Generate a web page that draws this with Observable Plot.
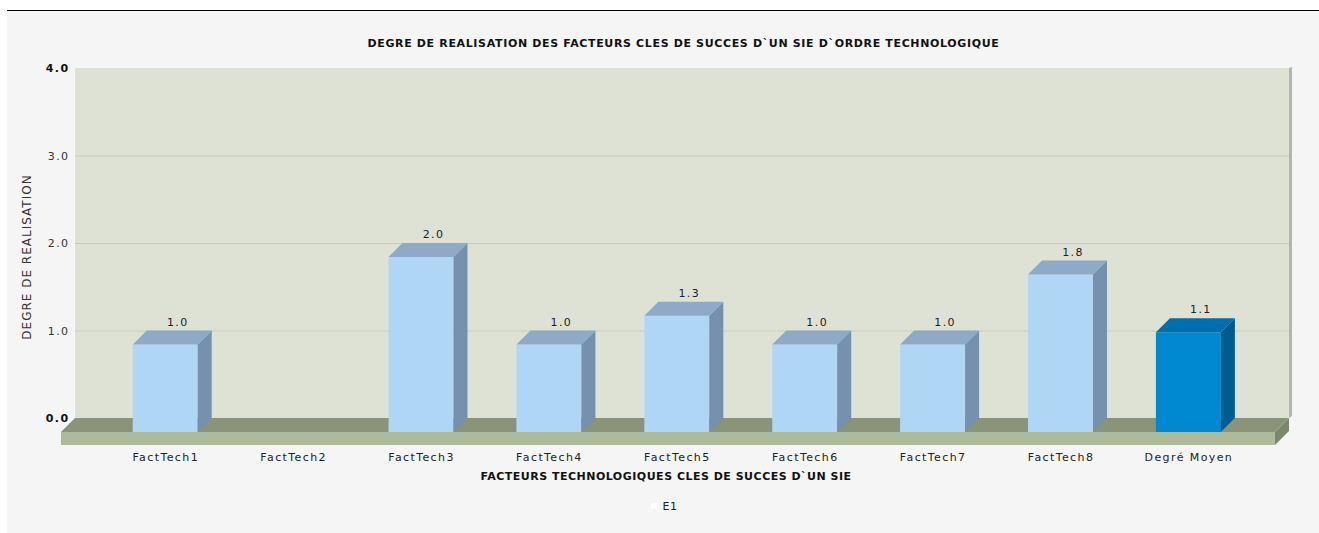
<!DOCTYPE html>
<html>
<head>
<meta charset="utf-8">
<script src="https://cdn.jsdelivr.net/npm/d3@7"></script>
<script src="https://cdn.jsdelivr.net/npm/@observablehq/plot@0.6"></script>
<style>
  html, body { margin: 0; padding: 0; }
  body { width: 1319px; height: 533px; position: relative; overflow: hidden; background: #fff;
         font-family: "DejaVu Sans", Verdana, sans-serif; color: #222; }
  #panel { position: absolute; left: 7px; top: 10px; width: 1312px; height: 523px; background: #f5f5f5; border-top: 1px solid #000; }
  #title { position: absolute; left: 48px; top: 37px; width: 1271px; text-align: center; font-weight: bold; font-size: 11px; letter-spacing: 0.65px; line-height: 14px; color: #111; }
  #ytitle { position: absolute; left: 27px; top: 257px; transform: translate(-50%, -50%) rotate(-90deg); white-space: nowrap; font-size: 12px; letter-spacing: 1px; color: #333; }
  #chart { position: absolute; left: 0; top: 56px; }
  #xtitle { position: absolute; left: 0; top: 470px; width: 1332px; text-align: center; font-weight: bold; font-size: 11px; letter-spacing: 0.5px; line-height: 14px; color: #111; }
  #legend { position: absolute; left: 0; top: 500px; width: 1328px; text-align: center; font-size: 11px; letter-spacing: 0.5px; line-height: 14px; color: #222; }
  #legend .sw { display: inline-block; width: 6px; height: 6px; background: #fff; margin-right: 6px; vertical-align: 1px; }
</style>
</head>
<body>
<div id="panel"></div>
<div id="title"></div>
<div id="ytitle"></div>
<div id="chart"></div>
<div id="xtitle"></div>
<div id="legend"></div>
<script>
// ---- data ----
const titleText = "DEGRE DE REALISATION DES FACTEURS CLES DE SUCCES D`UN SIE D`ORDRE TECHNOLOGIQUE";
const yTitle = "DEGRE DE REALISATION";
const xTitle = "FACTEURS TECHNOLOGIQUES CLES DE SUCCES D`UN SIE";
const seriesName = "E1";
const categories = ["FactTech1", "FactTech2", "FactTech3", "FactTech4", "FactTech5", "FactTech6", "FactTech7", "FactTech8", "Degré Moyen"];
const values = [1.0, 0, 2.0, 1.0, 1.33, 1.0, 1.0, 1.8, 1.14];
const averageCategory = "Degré Moyen";
const yTicks = [0, 1, 2, 3, 4];
const yTicksBold = [0, 4];
const yGrid = [1, 2, 3];
const yMax = 4;

// ---- styles ----
const D = 14; // 3D depth (px)
const light = {front: "#b0d6f6", top: "#8eaac8", side: "#7591ae"};
const dark = {front: "#0088d1", top: "#006fad", side: "#005b8f"};
const wallColor = "#dee2d5";
const gridColor = "#c6ccbd";
const floorTop = "#8b9479";
const floorFront = "#adba9c";
const floorSide = "#7c866b";
const fmt = d3.format(".1f");

const data = categories.map((c, i) => ({cat: c, value: values[i]}));
const palette = d => d.cat === averageCategory ? dark : light;

document.getElementById("title").textContent = titleText;
document.getElementById("ytitle").textContent = yTitle;
document.getElementById("xtitle").textContent = xTitle;
document.getElementById("legend").innerHTML = '<span class="sw"></span>' + seriesName;

function poly(g, pts, fill) {
  g.append("polygon").attr("points", pts.map(p => p.join(",")).join(" ")).attr("fill", fill);
}

// wall and floor
function backdrop(index, scales, channels, dim) {
  const g = d3.create("svg:g");
  const xl = dim.marginLeft, xr = dim.width - dim.marginRight;
  const y0 = scales.y(0), yt = scales.y(yMax);
  poly(g, [[xl + D, yt - D], [xr + D, yt - D], [xr + D, y0 - D], [xl + D, y0 - D]], wallColor);
  poly(g, [[xr + D, yt - D], [xr + D + 3, yt - D - 1], [xr + D + 3, y0 - D - 2], [xr + D, y0 - D]], "#b3b6ad");
  return g.node();
}
function floor(index, scales, channels, dim) {
  const g = d3.create("svg:g");
  const xl = dim.marginLeft, xr = dim.width - dim.marginRight;
  const y0 = scales.y(0);
  const T = 13;
  poly(g, [[xl, y0], [xr, y0], [xr + D, y0 - D], [xl + D, y0 - D]], floorTop);
  poly(g, [[xl, y0], [xr, y0], [xr, y0 + T], [xl, y0 + T]], floorFront);
  poly(g, [[xr, y0], [xr + D, y0 - D], [xr + D, y0 - D + T], [xr, y0 + T]], floorSide);
  return g.node();
}
function barFaces(index, scales, channels, dim) {
  const g = d3.create("svg:g");
  const bw = scales.x.bandwidth();
  const y0 = scales.y(0);
  for (const d of data) {
    if (!(d.value > 0)) continue;
    const x0 = scales.x(d.cat), x1 = x0 + bw, yv = scales.y(d.value);
    const p = palette(d);
    poly(g, [[x1, y0], [x1, yv], [x1 + D, yv - D], [x1 + D, y0 - D]], p.side);
    poly(g, [[x0, yv], [x1, yv], [x1 + D, yv - D], [x0 + D, yv - D]], p.top);
  }
  return g.node();
}

const chart = Plot.plot({
  width: 1319,
  height: 414,
  marginTop: 26,
  marginBottom: 38,
  marginLeft: 61,
  marginRight: 44,
  style: {background: "transparent", fontFamily: "DejaVu Sans, Verdana, sans-serif", fontSize: "11px", letterSpacing: "1.4px", color: "#222", overflow: "visible"},
  x: {domain: categories, round: false, paddingInner: 0.492, paddingOuter: 0.492, align: 0.57, tickSize: 0, tickPadding: 21, label: null},
  y: {domain: [0, yMax], axis: null},
  marks: [
    backdrop,
    Plot.ruleY(yGrid, {stroke: gridColor, strokeWidth: 1, dx: D, dy: -D}),
    floor,
    Plot.barY(data.filter(d => d.value > 0), {x: "cat", y: "value", fill: d => palette(d).front}),
    barFaces,
    Plot.text(data.filter(d => d.value > 0), {x: "cat", y: "value", text: d => fmt(d.value), dx: 12, dy: -23, fill: "#222", fontSize: 11}),
    Plot.text(yTicks.filter(t => !yTicksBold.includes(t)), {y: d => d, text: d => fmt(d), frameAnchor: "left", textAnchor: "end", dx: 8, dy: -D, fill: "#333", fontSize: 11}),
    Plot.text(yTicksBold, {y: d => d, text: d => fmt(d), frameAnchor: "left", textAnchor: "end", dx: 8, dy: -D, fill: "#111", fontSize: 11, fontWeight: "bold"})
  ]
});
document.getElementById("chart").appendChild(chart);
</script>
</body>
</html>
